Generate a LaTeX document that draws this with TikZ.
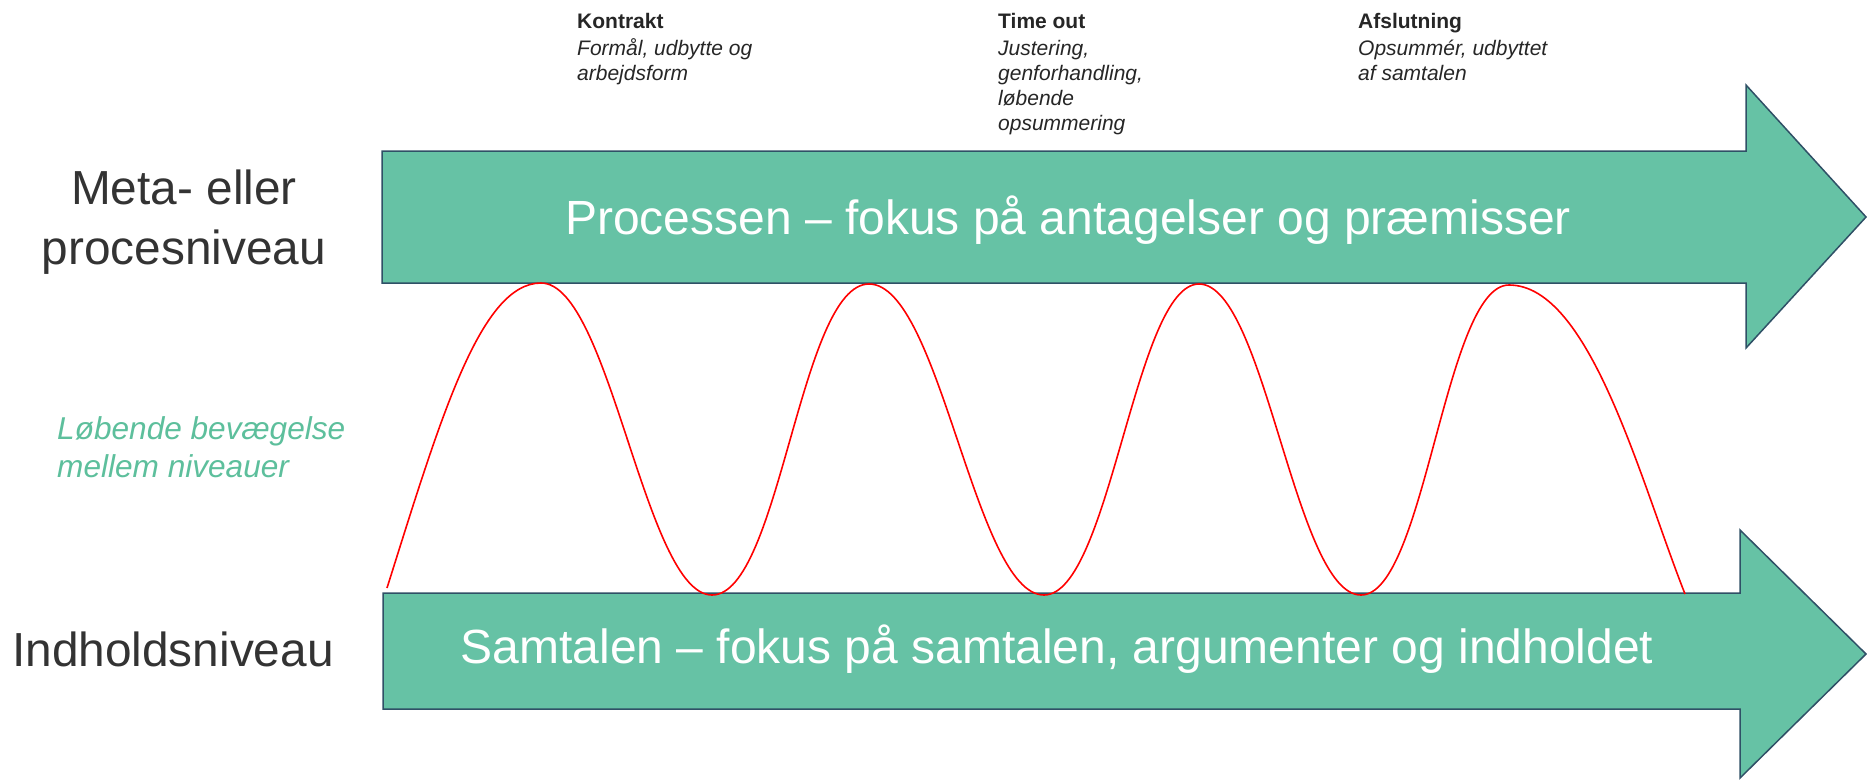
\documentclass[tikz,border=0pt]{standalone}
\usepackage{fontspec}
\setmainfont{Liberation Sans}
\definecolor{arrowgreen}{HTML}{66C2A5}
\definecolor{arrowedge}{HTML}{2F5066}
\definecolor{labelgray}{HTML}{333333}
\definecolor{toptext}{HTML}{262626}
\definecolor{movegreen}{HTML}{5DBF9C}
\tikzset{
  bigarrow/.style={fill=arrowgreen, draw=arrowedge, line width=1.5pt, line join=miter},
  arrowtext/.style={text=white, inner sep=0pt, font=\fontsize{48}{57}\selectfont},
  levellabel/.style={text=labelgray, inner sep=0pt, font=\fontsize{47.8}{59.5}\selectfont},
  phaselabel/.style={text=toptext, inner sep=0pt, align=left, anchor=north west, font=\fontsize{21}{25}\selectfont},
  movelabel/.style={text=movegreen, inner sep=0pt, align=left, anchor=north west, font=\fontsize{31.6}{38}\selectfont\itshape},
  wave/.style={draw=red, line width=1.6pt}
}
\begin{document}
\begin{tikzpicture}[x=1pt,y=-1pt]
\useasboundingbox (0,0) rectangle (1867,779);
% arrows
\draw[bigarrow] (382,151) -- (1746,151) -- (1746,85) -- (1866,217) -- (1746,348) -- (1746,283) -- (382,283) -- cycle;
\draw[bigarrow] (383,593) -- (1740,593) -- (1740,530) -- (1866,654) -- (1740,778) -- (1740,709) -- (383,709) -- cycle;
\node[arrowtext, anchor=base] (proc) at (1068,234) {Processen – fokus på antagelser og præmisser};
\node[arrowtext, anchor=base] (samt) at (1057,663) {Samtalen – fokus på samtalen, argumenter og indholdet};
% level labels
\node[levellabel, anchor=north, align=center] (meta) at (184,170) {Meta- eller\\procesniveau};
\node[levellabel, anchor=base west] (indh) at (12,666) {Indholdsniveau};
\node[movelabel] (move) at (57,416) {Løbende bevægelse\\mellem niveauer};
% phase labels
\node[phaselabel] (kontrakt) at (577,13) {\textbf{Kontrakt}\\[2pt]\textit{Formål, udbytte og}\\\textit{arbejdsform}};
\node[phaselabel] (timeout) at (998,13) {\textbf{Time out}\\[2pt]\textit{Justering,}\\\textit{genforhandling,}\\\textit{løbende}\\\textit{opsummering}};
\node[phaselabel] (afslut) at (1358,13) {\textbf{Afslutning}\\[2pt]\textit{Opsummér, udbyttet}\\\textit{af samtalen}};
% wave
\coordinate (w0) at (387,588);
\coordinate (p1) at (541,283);
\coordinate (t1) at (712,595);
\coordinate (p2) at (869,284);
\coordinate (t2) at (1044,595);
\coordinate (p3) at (1199,284);
\coordinate (t3) at (1361,595);
\coordinate (p4) at (1509,285);
\coordinate (w1) at (1685,594);
\draw[wave] (w0) .. controls (440,420) and (480,283) .. (p1)
  .. controls (610,283) and (645,595) .. (t1)
  .. controls (780,595) and (800,284) .. (p2)
  .. controls (940,284) and (975,595) .. (t2)
  .. controls (1110,595) and (1135,284) .. (p3)
  .. controls (1265,284) and (1295,595) .. (t3)
  .. controls (1425,595) and (1445,285) .. (p4)
  .. controls (1590,285) and (1640,480) .. (w1);
\end{tikzpicture}
\end{document}
